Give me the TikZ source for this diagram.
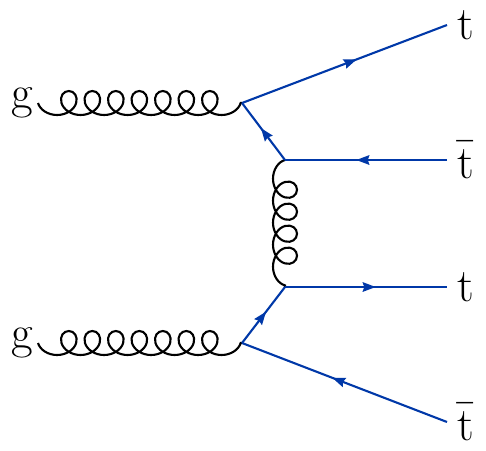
\documentclass[tikz,border=0pt]{standalone}
\usepackage{unicode-math}
\usepackage{tikz}
\usetikzlibrary{
  arrows.meta,
  positioning,
  decorations.pathmorphing,
  decorations.markings
}
\definecolor{quark}{RGB}{0,56,168}

\begin{document}
\begin{tikzpicture}[
  x=1pt, y=-1pt,
  gluon/.style={draw=black, line width=2.1pt, decorate, decoration={coil, mirror, amplitude=12pt, aspect=1.1, segment length=#1}},
  gluon/.default=23.5pt,
  fermion/.style={draw=quark, line width=2.1pt, postaction={decorate, decoration={markings, mark=at position 0.56 with {\arrow[quark]{Stealth[length=13pt,width=9.5pt,inset=1.5pt]}}}}},
  partlabel/.style={font=\fontsize{47}{56}\selectfont, inner sep=0pt}
]
  \useasboundingbox (0,0) rectangle (486,450);

  % vertices
  \coordinate (va) at (242,103);
  \coordinate (vb) at (285,160);
  \coordinate (vc) at (285,287);
  \coordinate (vd) at (242,343);

  % outer ends
  \coordinate (ga) at (38,103);
  \coordinate (gd) at (38,343);
  \coordinate (ta) at (447,25);
  \coordinate (tb) at (447,160);
  \coordinate (tc) at (447,287);
  \coordinate (td) at (447,422);

  % labels
  \node[partlabel, left=5pt of ga] (lga) {g};
  \node[partlabel, left=5pt of gd] (lgd) {g};
  \node[partlabel, right=10pt of ta] (lta) {t};
  \node[partlabel, right=10pt of tb] (ltb) {$\bar{\mathrm{t}}$};
  \node[partlabel, right=10pt of tc] (ltc) {t};
  \node[partlabel, right=10pt of td] (ltd) {$\bar{\mathrm{t}}$};

  % gluons
  \draw[gluon] (ga) -- (va);
  \draw[gluon] (gd) -- (vd);
  \draw[gluon=22pt] (vb) -- (vc);

  % quark lines
  \draw[fermion] (va) -- (ta);
  \draw[fermion] (vb) -- (va);
  \draw[fermion] (tb) -- (vb);
  \draw[fermion] (vc) -- (tc);
  \draw[fermion] (vd) -- (vc);
  \draw[fermion] (td) -- (vd);
\end{tikzpicture}
\end{document}
